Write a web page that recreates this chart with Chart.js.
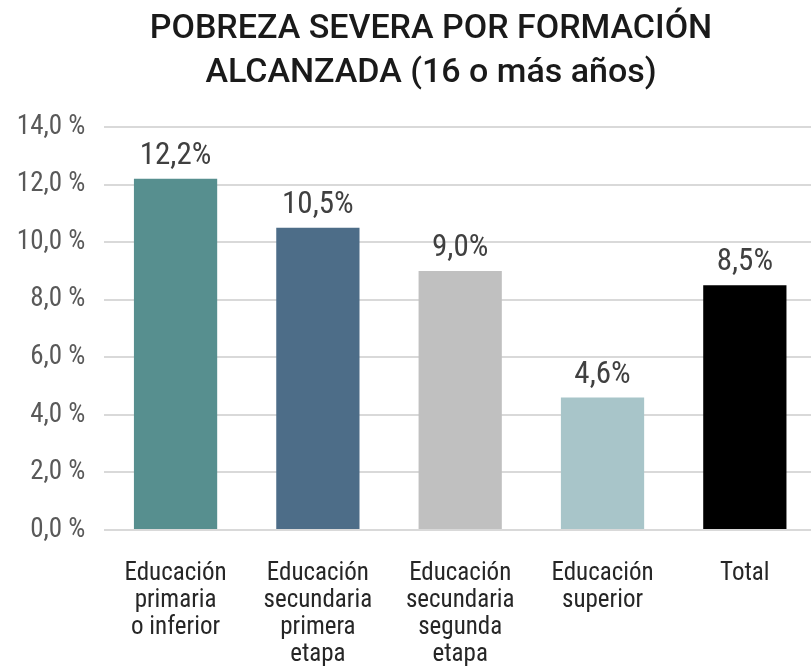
<!DOCTYPE html>
<html>
<head>
<meta charset="utf-8">
<script src="https://cdn.jsdelivr.net/npm/chart.js@4"></script>
<style>
html,body{margin:0;padding:0;background:#fff;overflow:hidden;}
#wrap{width:816px;height:669px;}
</style>
</head>
<body>
<div id="wrap"><canvas id="c" width="816" height="669"></canvas></div>
<script>
const categories = [
  ["Educación", "primaria", "o inferior"],
  ["Educación", "secundaria", "primera", "etapa"],
  ["Educación", "secundaria", "segunda", "etapa"],
  ["Educación", "superior"],
  ["Total"]
];
const values = [12.2, 10.5, 9.0, 4.6, 8.5];
const barColors = ["#578f8f", "#4d6d88", "#c0c0c0", "#a8c5c9", "#000000"];
const titleLines = ["POBREZA SEVERA POR FORMACIÓN", "ALCANZADA (16 o más años)"];
const yMin = 0, yMax = 14, yStep = 2;

const COND = '"Roboto Condensed", "Liberation Sans Narrow", "DejaVu Sans Condensed", Roboto, sans-serif';

const fmt = (v, sep) => v.toFixed(1).replace('.', ',') + sep + '%';

const valueLabels = {
  id: 'valueLabels',
  afterDatasetsDraw(chart) {
    const ctx = chart.ctx;
    const meta = chart.getDatasetMeta(0);
    ctx.save();
    ctx.font = '31px ' + COND;
    ctx.fillStyle = '#404040';
    ctx.textAlign = 'center';
    ctx.textBaseline = 'alphabetic';
    meta.data.forEach((bar, i) => {
      ctx.fillText(fmt(values[i], ''), bar.x, bar.y - 15);
    });
    ctx.restore();
  }
};

// Shift the title box so it is centred like in the reference
const titleShift = {
  id: 'titleShift',
  afterLayout(chart) {
    if (chart.titleBlock) {
      chart.titleBlock.left += 46;
    }
  }
};

new Chart(document.getElementById('c'), {
  type: 'bar',
  data: {
    labels: categories,
    datasets: [{
      data: values,
      backgroundColor: barColors,
      borderWidth: 0,
      barPercentage: 0.585,
      categoryPercentage: 1.0
    }]
  },
  options: {
    responsive: false,
    animation: false,
    devicePixelRatio: 1,
    layout: { padding: 0 },
    plugins: {
      legend: { display: false },
      tooltip: { enabled: false },
      title: {
        display: true,
        text: titleLines,
        color: '#1a1a1a',
        font: { family: 'Roboto', size: 34, weight: '500', lineHeight: 1.3 },
        padding: { top: 7, bottom: 31.6 }
      }
    },
    scales: {
      x: {
        grid: { display: false, drawTicks: false },
        border: { display: false },
        ticks: {
          color: '#262626',
          font: { family: COND, size: 25, weight: 'normal', lineHeight: 1.08 },
          padding: 30,
          maxRotation: 0,
          autoSkip: false
        },
        afterFit(scale) { scale.height = 139; }
      },
      y: {
        min: yMin, max: yMax,
        grid: { color: '#d9d9d9', lineWidth: 2, drawTicks: false },
        border: { display: false },
        ticks: {
          stepSize: yStep,
          color: '#595959',
          font: { family: COND, size: 27 },
          padding: 19,
          callback: (v) => fmt(v, ' ')
        },
        afterFit(scale) { scale.width = 104.4; }
      }
    }
  },
  plugins: [valueLabels, titleShift]
});
</script>
</body>
</html>
